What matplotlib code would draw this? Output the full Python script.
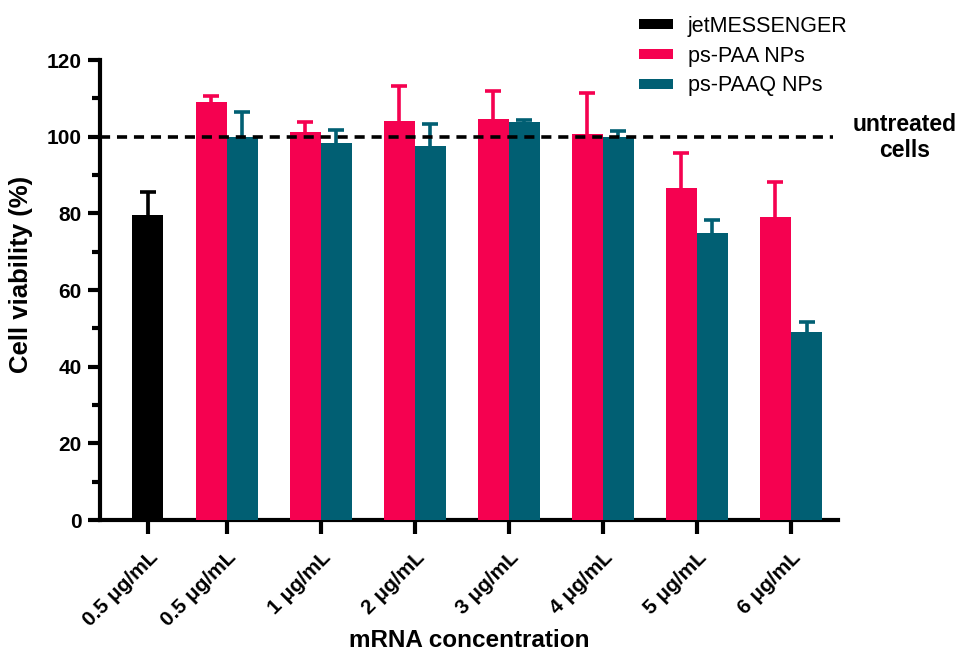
import numpy as np
import matplotlib
matplotlib.use("Agg")
import matplotlib.pyplot as plt
from matplotlib.patches import Patch
from matplotlib.ticker import MultipleLocator

plt.rcParams['font.family'] = ['Liberation Sans', 'DejaVu Sans']

categories = ["0.5 μg/mL", "0.5 μg/mL", "1 μg/mL", "2 μg/mL", "3 μg/mL",
              "4 μg/mL", "5 μg/mL", "6 μg/mL"]
jet_value = [79.5]
jet_err = [6.1]
paa_values = [109.1, 101.3, 104.2, 104.5, 100.6, 86.7, 79.0]
paa_err = [1.5, 2.6, 9.0, 7.5, 10.7, 9.0, 9.1]
paaq_values = [99.8, 98.4, 97.6, 103.7, 100.0, 75.0, 49.1]
paaq_err = [6.7, 3.3, 5.6, 0.7, 1.6, 3.3, 2.6]

c_jet = "#000000"
c_paa = "#F50150"
c_paaq = "#015F73"

fig = plt.figure(figsize=(9.64, 6.58), dpi=100)
ax = fig.add_axes([100/964, 1-520/658, (838-100)/964, (520-60)/658])

w = 0.33
group_x = 0.84 + np.arange(len(paa_values))
tick_x = np.concatenate([[0.0], group_x])


def bars_with_up_err(x, vals, errs, color):
    vals = np.asarray(vals, float)
    errs = np.asarray(errs, float)
    ax.bar(x, vals, width=w, color=color, zorder=3)
    _, caps, _ = ax.errorbar(x, vals, yerr=[np.zeros_like(errs), errs], fmt="none",
                             ecolor=color, elinewidth=2.6, capthick=2.6, capsize=6,
                             zorder=2)
    caps[0].set_visible(False)


bars_with_up_err(np.array([0.0]), jet_value, jet_err, c_jet)
bars_with_up_err(group_x - w/2, paa_values, paa_err, c_paa)
bars_with_up_err(group_x + w/2, paaq_values, paaq_err, c_paaq)

ax.axhline(100, xmin=0, xmax=(833-100)/(838-100), color="black",
           linestyle=(0, (2.8, 1.9)), linewidth=2.6, zorder=4)

ax.set_xlim(-0.51, 7.34)
ax.set_ylim(0, 120)
ax.yaxis.set_major_locator(MultipleLocator(20))
ax.yaxis.set_minor_locator(MultipleLocator(10))

for s in ["top", "right"]:
    ax.spines[s].set_visible(False)
for s in ["left", "bottom"]:
    ax.spines[s].set_linewidth(3)

ax.tick_params(axis="y", which="major", length=9, width=3, labelsize=15, pad=4)
ax.tick_params(axis="y", which="minor", length=6, width=3)
ax.tick_params(axis="x", which="major", length=10, width=3, pad=10)
for lab in ax.get_yticklabels():
    lab.set_fontweight("bold")

ax.set_xticks(tick_x)
ax.set_xticklabels(categories, rotation=45, ha="right", rotation_mode="anchor",
                   fontsize=15, fontweight="bold")

ax.set_ylabel("Cell viability (%)", fontsize=18.5, fontweight="bold")
ax.yaxis.set_label_coords(-0.091, 0.534)
ax.set_xlabel("mRNA concentration", fontsize=17.5, fontweight="bold")
ax.xaxis.set_label_coords(0.5, -0.238)

handles = [Patch(facecolor=c_jet), Patch(facecolor=c_paa), Patch(facecolor=c_paaq)]
labels = ["jetMESSENGER", "ps-PAA NPs", "ps-PAAQ NPs"]
fig.legend(handles, labels, loc="upper left", bbox_to_anchor=(623/964, 1.0),
           frameon=False, fontsize=15.5, handlelength=1.55, handleheight=0.33,
           handletextpad=0.7, labelspacing=0.40, borderaxespad=0.35)

fig.text(905/964, 1-137.5/658, "untreated\ncells", ha="center", va="center",
         fontsize=16.5, fontweight="bold", linespacing=1.2)

fig.savefig("out.png", dpi=100)
